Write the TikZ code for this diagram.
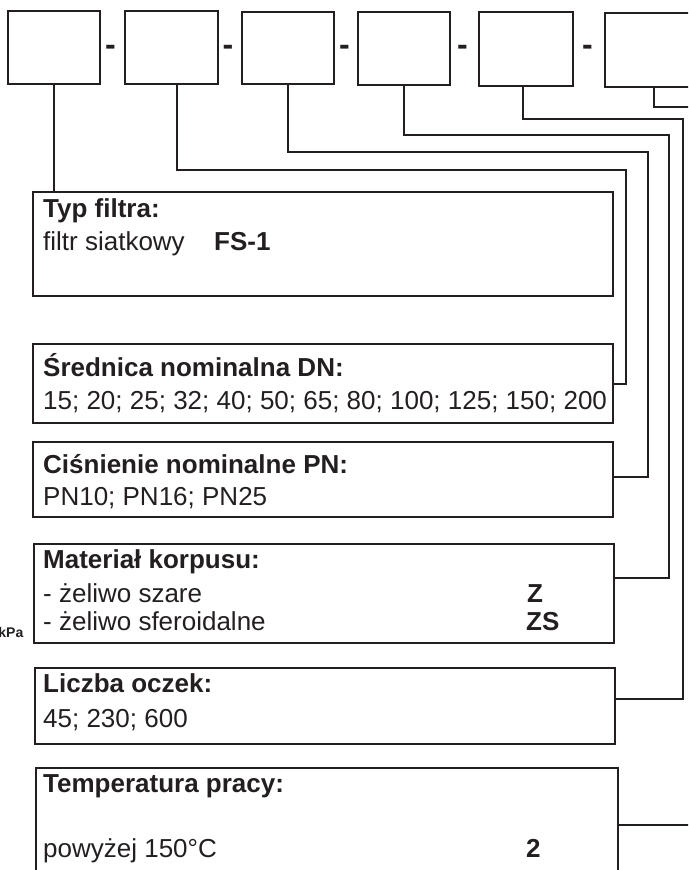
\documentclass[tikz,border=0pt]{standalone}
\usepackage{fontspec}
\setmainfont{Liberation Sans}
\definecolor{ink}{HTML}{231F20}
\begin{document}
\begin{tikzpicture}[x=1pt,y=-1pt,
  box/.style={draw=ink,line width=2.2pt,inner sep=0pt,anchor=north west},
  wire/.style={draw=ink,line width=2.2pt},
  lbl/.style={anchor=base west,inner sep=0pt,text=ink,font=\fontsize{26}{30}\selectfont},
  hd/.style={anchor=base west,inner sep=0pt,text=ink,font=\fontsize{26}{30}\selectfont\bfseries},
  dashmark/.style={anchor=base,inner sep=0pt,text=ink,font=\fontsize{32}{32}\selectfont\bfseries}]
\path[use as bounding box] (0,0) rectangle (688,870);
\clip (0,0) rectangle (688,870);

% top code boxes
\node[box,minimum width=92pt,minimum height=73pt] (b1) at (7,10) {};
\node[box,minimum width=93pt,minimum height=73pt] (b2) at (124,10) {};
\node[box,minimum width=92pt,minimum height=72pt] (b3) at (241,11) {};
\node[box,minimum width=92pt,minimum height=73pt] (b4) at (357,11) {};
\node[box,minimum width=94pt,minimum height=74pt] (b5) at (478,11) {};
\node[box,minimum width=98pt,minimum height=74pt] (b6) at (604,12) {};

% separators
\node[dashmark] (d1) at (110.5,55.5) {-};
\node[dashmark] (d2) at (228,55.5) {-};
\node[dashmark] (d3) at (344.5,55.5) {-};
\node[dashmark] (d4) at (462.5,55.5) {-};
\node[dashmark] (d5) at (587.5,55.5) {-};

% description boxes
\node[box,minimum width=580pt,minimum height=104pt] (t1) at (32,191) {};
\node[box,minimum width=580pt,minimum height=79pt] (t2) at (32,343) {};
\node[box,minimum width=580pt,minimum height=75pt] (t3) at (32,441) {};
\node[box,minimum width=580pt,minimum height=99pt] (t4) at (33,543) {};
\node[box,minimum width=580pt,minimum height=76pt] (t5) at (34,667) {};
\node[box,minimum width=582pt,minimum height=113pt] (t6) at (35,767) {};

% texts
\node[hd] (h1) at (43,217) {Typ filtra:};
\node[lbl] (l1) at (43,250) {filtr siatkowy};
\node[hd] (c1) at (214,250) {FS-1};

\node[hd] (h2) at (43,376) {Średnica nominalna DN:};
\node[lbl] (l2) at (43,409) {15; 20; 25; 32; 40; 50; 65; 80; 100; 125; 150; 200};

\node[hd] (h3) at (43,473) {Ciśnienie nominalne PN:};
\node[lbl] (l3) at (43,505) {PN10; PN16; PN25};

\node[hd] (h4) at (43,568) {Materiał korpusu:};
\node[lbl] (l4a) at (43,602) {- żeliwo szare};
\node[hd] (c4a) at (527,602) {Z};
\node[lbl] (l4b) at (43,630) {- żeliwo sferoidalne};
\node[hd] (c4b) at (526,630) {ZS};

\node[hd] (h5) at (43,692) {Liczba oczek:};
\node[lbl] (l5) at (43,727) {45; 230; 600};

\node[hd] (h6) at (43,792) {Temperatura pracy:};
\node[lbl] (l6) at (43,857) {powyżej 150°C};
\node[hd] (c6) at (526,857) {2};

\node[anchor=base east,inner sep=0pt,text=ink,font=\fontsize{14}{14}\selectfont\bfseries] (kpa) at (23.5,637) {kPa};

% free ends
\coordinate (e6) at (700,107);
\coordinate (e7) at (700,823.5);

% connectors
\draw[wire] (b1.south) -- (b1.south |- t1.north);
\draw[wire] ([xshift=5.5pt]b2.south) |- (626,170) |- (t2.east);
\draw[wire] (b3.south) |- (648,152) |- ([yshift=2.5pt]t3.east);
\draw[wire] (b4.south) |- (669,135) |- ([yshift=15.5pt]t4.east);
\draw[wire] ([xshift=-3pt]b5.south) |- (683,119) |- ([yshift=7pt]t5.east);
\draw[wire] (b6.south) |- (e6);
\draw[wire] (t6.east) -- (t6.east -| e7);
\end{tikzpicture}
\end{document}
